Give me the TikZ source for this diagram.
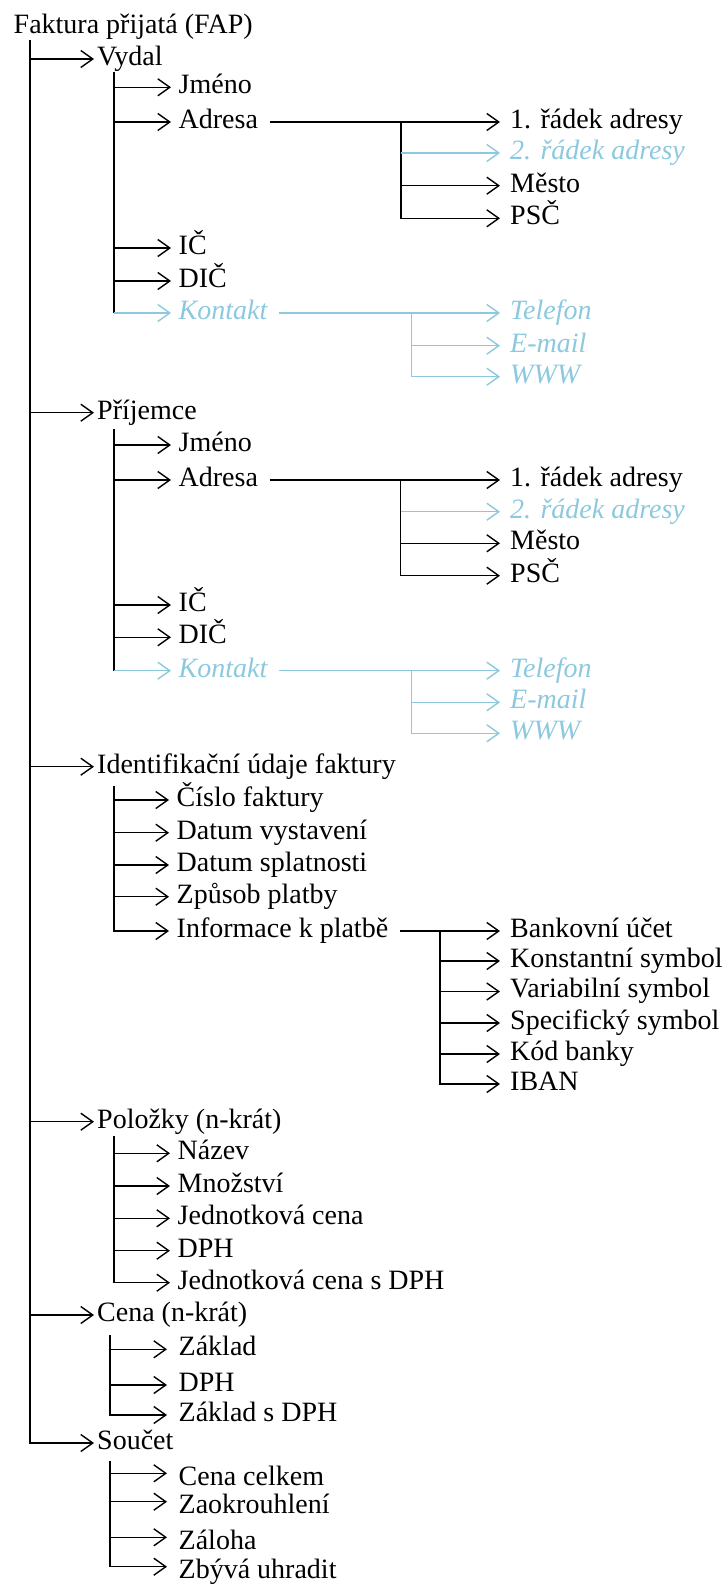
\documentclass[tikz,border=0pt]{standalone}
\usepackage{fontspec}
\setmainfont{Liberation Serif}
\usepackage{tikz}
\usetikzlibrary{arrows.meta}

\definecolor{hidblue}{RGB}{140,200,222}

\tikzset{
  lev1/.style={anchor=mid west, inner xsep=2.5pt, inner ysep=0pt},
  lev2/.style={anchor=mid west, inner xsep=7pt, inner ysep=0pt},
  lev2w/.style={lev2, inner xsep=11pt},
  lev2low/.style={lev2w, anchor=west, text height=24pt, text depth=0pt},
  lev3/.style={anchor=mid west, inner xsep=9.5pt, inner ysep=0pt},
  hidtext/.style={text=hidblue, font=\itshape},
  hidline/.style={draw=hidblue},
  arr/.style={-{Straight Barb[length=12pt,width=17pt]}},
  gap/.style={shorten <=4pt},
}

\begin{document}
\fontsize{28}{34}\selectfont
\begin{tikzpicture}[x=1pt,y=1pt,yscale=-1,line width=1.4pt]
\useasboundingbox (0,0) rectangle (723,1586);

% Text Node
\node[lev1] (fap) at (10.5,27) {Faktura přijatá (FAP)};
\coordinate (trunk) at (30,40);

% Text Node
\node[lev1] (vydal) at (94,59) {Vydal};
\node[lev1] (prijemce) at (94,412.7) {Příjemce};
\node[lev1] (ident) at (94,766.7) {Identifikační údaje faktury};
\node[lev1] (polozky) at (94,1121.7) {Položky (n-krát)};
\node[lev1] (cena) at (94,1315) {Cena (n-krát)};
\node[lev1] (soucet) at (94,1443) {Součet};

%Straight Lines
\draw[arr] (trunk) |- (soucet.mid west);
\draw[arr] (trunk |- vydal.mid west) -- (vydal.mid west);
\draw[arr] (trunk |- prijemce.mid west) -- (prijemce.mid west);
\draw[arr] (trunk |- ident.mid west) -- (ident.mid west);
\draw[arr] (trunk |- polozky.mid west) -- (polozky.mid west);
\draw[arr] (trunk |- cena.mid west) -- (cena.mid west);

% ---- Vydal ----
\coordinate (vt) at (114,72);
\node[lev2] (vjmeno) at (171,87.3) {Jméno};
\node[lev2] (vadresa) at (171,122) {Adresa};
\node[lev2] (vic) at (171,248) {IČ};
\node[lev2] (vdic) at (171,281) {DIČ};
\node[lev2,hidtext] (vkontakt) at (171,313) {Kontakt};

\draw (vt) -- (vt |- vkontakt.mid west);
\draw[arr] (vt |- vjmeno.mid west) -- (vjmeno.mid west);
\draw[arr] (vt |- vadresa.mid west) -- (vadresa.mid west);
\draw[arr] (vt |- vic.mid west) -- (vic.mid west);
\draw[arr] (vt |- vdic.mid west) -- (vdic.mid west);
\draw[arr,hidline] (vt |- vkontakt.mid west) -- (vkontakt.mid west);

\node[lev3] (vr1) at (500,122) {1. řádek adresy};
\node[lev3,hidtext] (vr2) at (500,153) {2. řádek adresy};
\node[lev3] (vmesto) at (500,185.7) {Město};
\node[lev3] (vpsc) at (500,218.3) {PSČ};
\coordinate (vaj) at (401,122);

\draw[arr,gap] (vadresa.mid east) -- (vr1.mid west);
\draw[arr] (vaj) |- (vpsc.mid west);
\draw[arr] (vaj |- vmesto.mid west) -- (vmesto.mid west);
\draw[arr,hidline] (vaj |- vr2.mid west) -- (vr2.mid west);

\node[lev3,hidtext] (vtel) at (500,313) {Telefon};
\node[lev3,hidtext] (vmail) at (500,345.7) {E-mail};
\node[lev3,hidtext] (vwww) at (500,376.7) {WWW};
\coordinate (vkj) at (411.7,313);

\draw[arr,hidline,gap] (vkontakt.mid east) -- (vtel.mid west);
\draw[arr,hidline] (vkj) |- (vwww.mid west);
\draw[arr,hidline] (vkj |- vmail.mid west) -- (vmail.mid west);

% ---- Prijemce ----
\coordinate (pt) at (114,429);
\node[lev2] (pjmeno) at (171,445) {Jméno};
\node[lev2] (padresa) at (171,480) {Adresa};
\node[lev2] (pic) at (171,605) {IČ};
\node[lev2] (pdic) at (171,637.3) {DIČ};
\node[lev2,hidtext] (pkontakt) at (171,670.7) {Kontakt};

\draw (pt) -- (pt |- pkontakt.mid west);
\draw[arr] (pt |- pjmeno.mid west) -- (pjmeno.mid west);
\draw[arr] (pt |- padresa.mid west) -- (padresa.mid west);
\draw[arr] (pt |- pic.mid west) -- (pic.mid west);
\draw[arr] (pt |- pdic.mid west) -- (pdic.mid west);
\draw[arr,hidline] (pt |- pkontakt.mid west) -- (pkontakt.mid west);

\node[lev3] (pr1) at (500,480) {1. řádek adresy};
\node[lev3,hidtext] (pr2) at (500,511.7) {2. řádek adresy};
\node[lev3] (pmesto) at (500,543.3) {Město};
\node[lev3] (ppsc) at (500,575.7) {PSČ};
\coordinate (paj) at (400.7,480);

\draw[arr,gap] (padresa.mid east) -- (pr1.mid west);
\draw[arr] (paj) |- (ppsc.mid west);
\draw[arr] (paj |- pmesto.mid west) -- (pmesto.mid west);
\draw[arr,hidline] (paj |- pr2.mid west) -- (pr2.mid west);

\node[lev3,hidtext] (ptel) at (500,670.7) {Telefon};
\node[lev3,hidtext] (pmail) at (500,702.3) {E-mail};
\node[lev3,hidtext] (pwww) at (500,733.3) {WWW};
\coordinate (pkj) at (411.7,670.7);

\draw[arr,hidline,gap] (pkontakt.mid east) -- (ptel.mid west);
\draw[arr,hidline] (pkj) |- (pwww.mid west);
\draw[arr,hidline] (pkj |- pmail.mid west) -- (pmail.mid west);

% ---- Identifikacni udaje ----
\coordinate (it) at (114,786);
\node[lev2] (icislo) at (169,800) {Číslo faktury};
\node[lev2] (ivyst) at (169,832.7) {Datum vystavení};
\node[lev2] (isplat) at (169,865) {Datum splatnosti};
\node[lev2] (izpusob) at (169,896.7) {Způsob platby};
\node[lev2] (iinfo) at (169,931) {Informace k platbě};

\draw[arr] (it) |- (iinfo.mid west);
\draw[arr] (it |- icislo.mid west) -- (icislo.mid west);
\draw[arr] (it |- ivyst.mid west) -- (ivyst.mid west);
\draw[arr] (it |- isplat.mid west) -- (isplat.mid west);
\draw[arr] (it |- izpusob.mid west) -- (izpusob.mid west);

\node[lev3] (iucet) at (500,931) {Bankovní účet};
\node[lev3] (ikonst) at (500,961) {Konstantní symbol};
\node[lev3] (ivar) at (500,991.5) {Variabilní symbol};
\node[lev3] (ispec) at (500,1023) {Specifický symbol};
\node[lev3] (ikod) at (500,1054) {Kód banky};
\node[lev3] (iiban) at (500,1084) {IBAN};
\coordinate (iij) at (440,931);

\draw[arr,gap] (iinfo.mid east) -- (iucet.mid west);
\draw[arr] (iij) |- (iiban.mid west);
\draw[arr] (iij |- ikonst.mid west) -- (ikonst.mid west);
\draw[arr] (iij |- ivar.mid west) -- (ivar.mid west);
\draw[arr] (iij |- ispec.mid west) -- (ispec.mid west);
\draw[arr] (iij |- ikod.mid west) -- (ikod.mid west);

% ---- Polozky ----
\coordinate (lt) at (114,1136);
\node[lev2] (lnazev) at (170,1153.3) {Název};
\node[lev2] (lmnoz) at (170,1186) {Množství};
\node[lev2] (ljedn) at (170,1218.3) {Jednotková cena};
\node[lev2] (ldph) at (170,1250.7) {DPH};
\node[lev2] (ljdph) at (170,1282.7) {Jednotková cena s DPH};

\draw[arr] (lt) |- (ljdph.mid west);
\draw[arr] (lt |- lnazev.mid west) -- (lnazev.mid west);
\draw[arr] (lt |- lmnoz.mid west) -- (lmnoz.mid west);
\draw[arr] (lt |- ljedn.mid west) -- (ljedn.mid west);
\draw[arr] (lt |- ldph.mid west) -- (ldph.mid west);

% ---- Cena ----
\coordinate (ct) at (110,1335);
\node[lev2w] (czaklad) at (167,1349.3) {Základ};
\node[lev2w] (cdph) at (167,1385) {DPH};
\node[lev2w] (czdph) at (167,1415) {Základ s DPH};

\draw[arr] (ct) |- (czdph.mid west);
\draw[arr] (ct |- czaklad.mid west) -- (czaklad.mid west);
\draw[arr] (ct |- cdph.mid west) -- (cdph.mid west);

% ---- Soucet ----
\coordinate (st) at (110,1460.7);
\node[lev2low] (scelkem) at (167,1473.3) {Cena celkem};
\node[lev2low] (szaokr) at (167,1501.7) {Zaokrouhlení};
\node[lev2low] (szaloha) at (167,1537.3) {Záloha};
\node[lev2low] (szbyva) at (167,1566.7) {Zbývá uhradit};

\draw[arr] (st) |- (szbyva.west);
\draw[arr] (st |- scelkem.west) -- (scelkem.west);
\draw[arr] (st |- szaokr.west) -- (szaokr.west);
\draw[arr] (st |- szaloha.west) -- (szaloha.west);

\end{tikzpicture}
\end{document}
